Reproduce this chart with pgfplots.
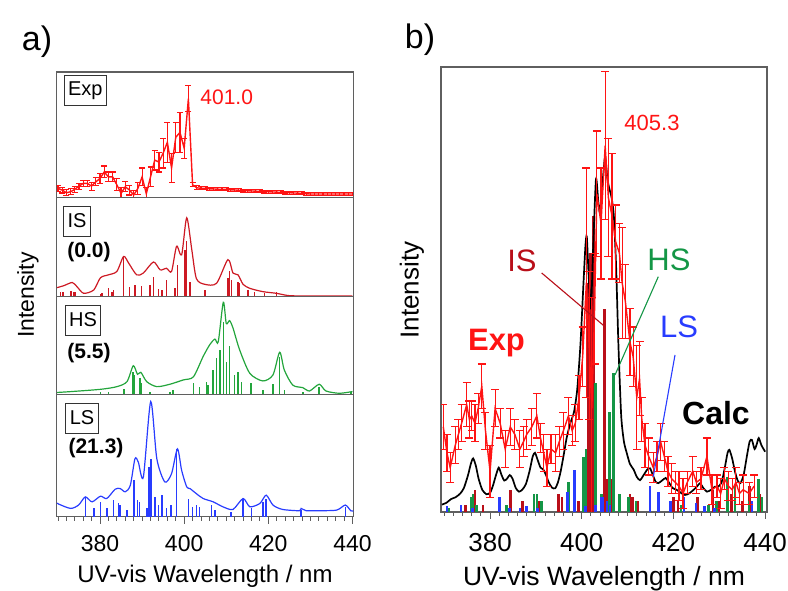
\documentclass[border=0pt]{standalone}
\usepackage{fontspec}
\setmainfont{Liberation Sans}
\usepackage{pgfplots}
\pgfplotsset{compat=1.18}
\usepackage{pgfplotstable}

\definecolor{expred}{RGB}{255,20,20}
\definecolor{isred}{RGB}{205,25,35}
\definecolor{isdark}{RGB}{185,15,25}
\definecolor{hsgreen}{RGB}{35,165,60}
\definecolor{hsdark}{RGB}{20,150,70}
\definecolor{lsblue}{RGB}{40,60,255}
\definecolor{framegray}{RGB}{95,95,95}

% ---- panel a data ----
\pgfplotstableread{
x y e
370 0.094 0.03
371 0.077 0.03
372 0.05 0.03
373 0.06 0.03
374 0.084 0.03
375 0.117 0.03
376 0.144 0.03
377 0.144 0.03
378 0.117 0.04
379 0.16 0.04
380 0.195 0.05
381 0.26 0.06
382 0.21 0.05
383 0.21 0.05
384 0.13 0.06
385 0.044 0.06
386 0.11 0.05
387 0.077 0.05
388 0.027 0.05
389 0.094 0.06
390 0.21 0.09
391 0.04 0.06
392 0.21 0.1
393 0.38 0.1
394 0.36 0.1
395 0.45 0.15
396 0.56 0.2
397 0.30 0.15
398 0.61 0.15
399 0.66 0.2
400 0.50 0.1
401 1.0 0.13
402 0.13 0.02
403 0.10 0.02
404 0.095 0.015
405 0.094 0.015
406 0.09 0.015
407 0.088 0.015
408 0.086 0.015
409 0.085 0.015
410 0.084 0.015
411 0.08 0.015
412 0.078 0.015
413 0.075 0.015
414 0.072 0.015
415 0.07 0.015
416 0.068 0.015
417 0.066 0.015
418 0.064 0.015
419 0.062 0.015
420 0.06 0.015
421 0.058 0.015
422 0.056 0.015
423 0.054 0.015
424 0.052 0.015
425 0.05 0.015
426 0.048 0.015
427 0.046 0.015
428 0.044 0.015
429 0.04 0.015
430 0.037 0.015
431 0.037 0.015
432 0.037 0.015
433 0.037 0.015
434 0.037 0.015
435 0.037 0.015
436 0.037 0.015
437 0.037 0.015
438 0.037 0.015
439 0.037 0.015
440 0.037 0.015
}\expa

\pgfplotstableread{
x y
369.8 0.115
371.4 0.14
373.4 0.18
374.5 0.128
376.1 0.043
378.5 0.085
380.1 0.24
382.0 0.277
384.0 0.32
385.6 0.51
386.8 0.426
388.7 0.277
390.3 0.30
392.7 0.44
394.3 0.34
395.8 0.36
397.0 0.32
398.2 0.64
399.4 0.53
400.6 1.0
401.8 0.6
402.9 0.23
404.9 0.157
407.7 0.17
410.4 0.47
411.6 0.30
412.8 0.277
414.0 0.157
415.6 0.106
418.7 0.064
421.9 0.043
425.0 0.013
430.0 0.01
440.0 0.01
}\iscurve

\pgfplotstableread{
x y
370.6 0.064
371.2 0.055
373.1 0.072
373.7 0.064
374.1 0.055
380.1 0.03
380.5 0.043
382.0 0.115
382.8 0.064
383.2 0.085
385.6 0.5
387.0 0.128
388.3 0.15
389.9 0.14
391.9 0.15
392.7 0.255
393.9 0.1
394.7 0.085
395.8 0.213
397.8 0.106
398.4 0.404
400.2 0.596
400.6 0.7
401.4 0.19
404.9 0.085
410.4 0.234
410.8 0.32
411.2 0.213
412.8 0.191
413.2 0.17
415.2 0.085
416.7 0.064
419.1 0.043
421.9 0.064
}\issticks

\pgfplotstableread{
x y
369.8 0.02
373.0 0.029
380.1 0.054
384.0 0.083
386.4 0.137
387.9 0.31
388.9 0.217
389.7 0.239
391.1 0.137
393.5 0.083
396.6 0.109
399.8 0.156
402.2 0.19
404.5 0.41
406.1 0.54
407.3 0.6
408.1 0.57
409.3 1.0
410.0 0.77
410.8 0.80
411.6 0.72
413.2 0.48
415.6 0.228
418.7 0.145
421.1 0.21
422.7 0.457
423.8 0.264
425.8 0.1
428.2 0.072
429.8 0.036
432.1 0.109
433.7 0.036
436.9 0.011
440.0 0.03
}\hscurve

\pgfplotstableread{
x y
380.1 0.022
382.0 0.029
385.7 0.058
387.8 0.239
388.1 0.21
389.5 0.174
389.9 0.12
391.9 0.029
396.6 0.022
397.4 0.047
402.2 0.12
403.7 0.083
405.3 0.13
405.7 0.1
406.9 0.264
407.7 0.39
408.5 0.48
409.3 0.79
410.0 0.355
410.8 0.52
412.0 0.21
412.8 0.246
413.6 0.138
415.9 0.12
418.7 0.047
421.1 0.11
422.7 0.41
423.8 0.047
428.2 0.029
432.1 0.083
439.6 0.029
}\hssticks

\pgfplotstableread{
x y
369.8 0.12
370.2 0.109
373.0 0.072
374.9 0.101
376.5 0.172
378.1 0.129
380.1 0.178
381.6 0.158
383.6 0.239
384.8 0.244
386.0 0.216
387.2 0.273
388.3 0.503
389.1 0.474
390.3 0.345
392.05 1.0
393.5 0.503
395.4 0.302
397.0 0.374
398.4 0.589
399.4 0.402
400.6 0.259
401.4 0.244
402.9 0.2
404.5 0.158
406.9 0.129
409.2 0.086
411.6 0.063
414.0 0.158
415.6 0.086
418.0 0.115
419.5 0.187
421.1 0.101
423.4 0.063
427.4 0.052
427.8 0.072
429.0 0.052
431.4 0.052
436.2 0.057
438.3 0.101
439.6 0.052
440.2 0.05
}\lscurve

\pgfplotstableread{
x y
376.5 0.172
378.5 0.072
380.1 0.129
381.6 0.072
383.2 0.144
384.4 0.115
384.8 0.101
386.4 0.057
388.1 0.316
388.9 0.144
389.4 0.129
391.1 0.072
391.7 0.431
392.05 0.503
393.1 0.172
393.9 0.101
394.7 0.187
395.8 0.072
396.8 0.101
398.2 0.589
401.0 0.158
402.0 0.086
402.9 0.101
403.6 0.086
406.5 0.101
407.3 0.057
411.2 0.043
414.0 0.158
416.0 0.072
418.7 0.129
419.5 0.158
427.8 0.057
438.3 0.086
}\lssticks

% ---- panel b data ----
\pgfplotstableread{
x y e
369.8 0.23 0.06
370.6 0.16 0.05
371.3 0.12 0.04
372.4 0.18 0.05
373.1 0.21 0.04
373.8 0.24 0.05
374.9 0.29 0.06
375.5 0.25 0.05
376.0 0.26 0.04
376.7 0.24 0.05
377.4 0.28 0.04
378.2 0.34 0.06
379.0 0.22 0.05
380.0 0.11 0.07
381.1 0.28 0.05
382.2 0.24 0.04
383.3 0.17 0.05
384.4 0.23 0.05
385.4 0.21 0.04
386.5 0.17 0.05
387.3 0.19 0.04
388.0 0.21 0.04
389.1 0.23 0.05
390.2 0.26 0.06
391.0 0.20 0.04
391.7 0.16 0.05
392.4 0.12 0.05
393.3 0.17 0.04
394.3 0.16 0.05
395.1 0.19 0.04
396.0 0.22 0.05
397.1 0.26 0.05
397.9 0.22 0.04
398.6 0.24 0.05
399.4 0.31 0.06
400.2 0.42 0.08
401.0 0.62 0.31
401.6 0.45 0.2
402.2 0.28 0.3
402.8 0.55 0.15
403.3 0.86 0.17
404.2 0.78 0.15
405.1 0.99 0.2
405.8 0.85 0.16
406.6 0.80 0.17
407.4 0.73 0.1
408.2 0.70 0.08
408.8 0.62 0.15
409.5 0.57 0.1
410.5 0.46 0.09
411.2 0.42 0.08
412.0 0.31 0.14
412.6 0.36 0.1
413.1 0.25 0.06
413.8 0.18 0.06
414.6 0.15 0.05
415.6 0.12 0.04
416.4 0.15 0.04
417.2 0.19 0.05
418.0 0.15 0.04
418.8 0.11 0.04
419.6 0.09 0.04
420.4 0.08 0.03
421.2 0.07 0.04
422.1 0.05 0.04
423.0 0.08 0.03
424.2 0.11 0.04
425.0 0.08 0.03
426.0 0.09 0.03
427.3 0.15 0.05
428.4 0.06 0.04
429.5 0.07 0.03
430.3 0.05 0.04
431.1 0.09 0.03
432.0 0.07 0.04
432.8 0.06 0.03
433.6 0.08 0.04
434.4 0.05 0.03
435.2 0.06 0.04
436.5 0.05 0.03
437.6 0.07 0.03
}\expb

\pgfplotstableread{
x y
369.5 0.02
370.5 0.025
371.5 0.035
372.5 0.04
373.5 0.05
374.3 0.065
375.2 0.1
375.8 0.13
376.3 0.145
376.9 0.125
377.5 0.09
378.3 0.06
379.2 0.048
380.0 0.052
380.6 0.07
381.3 0.1
381.9 0.12
382.5 0.1
383.1 0.085
383.7 0.09
384.3 0.1
384.9 0.09
385.6 0.065
386.3 0.055
387.0 0.06
387.8 0.075
388.6 0.11
389.3 0.15
389.8 0.16
390.4 0.14
391.0 0.12
391.6 0.115
392.2 0.1
392.8 0.08
393.5 0.066
394.2 0.064
394.8 0.08
395.4 0.11
396.0 0.15
396.7 0.2
397.5 0.24
398.3 0.27
399.0 0.33
399.7 0.45
400.3 0.6
400.8 0.72
401.1 0.744
401.5 0.64
402.0 0.55
402.5 0.72
403.1 0.9
403.6 0.84
404.0 0.81
404.6 0.9
405.1 0.96
405.6 0.9
406.0 0.875
406.5 0.85
407.0 0.8
407.5 0.66
408.0 0.45
408.6 0.26
409.2 0.19
409.8 0.16
410.5 0.13
411.3 0.115
412.0 0.095
412.7 0.086
413.5 0.1
414.3 0.115
414.9 0.118
415.5 0.1
416.1 0.082
416.7 0.078
417.5 0.085
418.3 0.092
419.0 0.08
419.8 0.065
420.7 0.06
421.6 0.052
422.5 0.046
423.4 0.05
424.4 0.06
425.2 0.07
425.8 0.078
426.5 0.065
427.3 0.055
428.2 0.06
429.0 0.068
429.7 0.068
430.5 0.08
431.2 0.12
431.8 0.16
432.2 0.168
432.8 0.145
433.4 0.11
434.0 0.085
434.6 0.078
435.3 0.1
436.0 0.15
436.6 0.19
437.1 0.195
437.7 0.17
438.2 0.185
438.6 0.2
439.2 0.18
440.0 0.163
}\calcb

\pgfplotstableread{
x y
374.6 0.02
376.7 0.06
378.5 0.02
384.4 0.06
387.1 0.03
390.5 0.03
394.9 0.05
395.7 0.04
399.3 0.03
401.4 0.62
401.9 0.7
402.6 0.8
404.9 0.55
405.4 0.09
406.4 0.09
410.5 0.05
411.0 0.04
412.2 0.03
420.0 0.04
421.0 0.03
425.3 0.04
428.6 0.06
429.9 0.03
432.6 0.05
435.0 0.03
436.6 0.07
438.8 0.05
}\isb

\pgfplotstableread{
x y
370.9 0.01
375.8 0.04
376.3 0.05
377.0 0.02
383.6 0.02
389.6 0.05
390.2 0.05
391.2 0.03
397.1 0.08
400.4 0.15
400.9 0.17
403.0 0.35
404.3 0.05
406.0 0.27
406.9 0.375
408.2 0.05
410.2 0.04
411.8 0.03
419.5 0.03
421.6 0.02
427.6 0.02
429.4 0.03
431.8 0.095
433.4 0.07
436.5 0.03
438.5 0.09
439.3 0.04
}\hsb

\pgfplotstableread{
x y
370.6 0.015
373.7 0.02
376.2 0.01
382.0 0.04
384.2 0.01
386.5 0.01
388.0 0.015
390.4 0.01
396.9 0.055
398.4 0.114
400.8 0.015
403.0 0.02
404.2 0.04
404.6 0.04
405.5 0.03
406.2 0.02
414.9 0.07
416.7 0.055
419.3 0.03
422.3 0.04
424.9 0.025
426.8 0.015
429.0 0.01
437.1 0.03
}\lsb

\pgfplotsset{
  panel/.style={scale only axis, ymin=0,
    axis line style={framegray, line width=1.1pt},
    xtick=\empty, ytick=\empty},
  pa/.style={panel, width=296.6pt, xmin=369.7, xmax=440.2},
  bottomticks/.style={
    xtick={380,400,420,440}, minor xtick={370,372,...,440},
    xtick pos=bottom, tick align=outside,
    major tick length=7pt, minor tick length=4pt,
    tick style={framegray, line width=0.9pt},
    /pgf/number format/assume math mode=true,
    /pgf/number format/1000 sep={}},
  errstyle/.style={error bars/.cd, y dir=both, y explicit,
    error bar style={expred, line width=1.2pt},
    error mark options={expred, rotate=90, mark size=#1, line width=1.1pt}},
}

\begin{document}
\begin{tikzpicture}
\path[use as bounding box] (0,0) rectangle (788pt,591pt);

% ---- panel a ----
\begin{axis}[pa, at={(56.7pt,393.3pt)}, anchor=south west, height=125.7pt, ymax=1.27]
  \addplot[expred, line width=1.4pt, mark=none, errstyle=3pt] table[x=x, y=y, y error=e] {\expa};
\end{axis}

\begin{axis}[pa, at={(56.7pt,294.3pt)}, anchor=south west, height=99pt, ymax=1.255]
  \addplot[ycomb, isred, line width=1.5pt, mark=none] table {\issticks};
  \addplot[isred, line width=1.2pt, smooth, tension=0.45, mark=none] table {\iscurve};
\end{axis}

\begin{axis}[pa, at={(56.7pt,196.7pt)}, anchor=south west, height=97.6pt, ymax=1.06]
  \addplot[ycomb, hsgreen, line width=1.5pt, mark=none] table {\hssticks};
  \addplot[hsgreen, line width=1.2pt, smooth, tension=0.45, mark=none] table {\hscurve};
\end{axis}

\begin{axis}[pa, bottomticks, at={(56.7pt,74.3pt)}, anchor=south west, height=122.4pt, ymax=1.063,
    tick label style={font=\fontsize{23}{23}\selectfont},
    xticklabel style={yshift=-8pt}]
  \addplot[ycomb, lsblue, line width=1.6pt, mark=none] table {\lssticks};
  \addplot[lsblue, line width=1.2pt, smooth, tension=0.45, mark=none] table {\lscurve};
\end{axis}

% ---- panel b ----
\begin{axis}[panel, bottomticks, at={(441pt,79pt)}, anchor=south west, width=326pt, height=445pt,
    xmin=369.3, xmax=440.4, ymax=1.203,
    tick label style={font=\fontsize{26}{26}\selectfont},
    xticklabel style={yshift=-11pt}]
  \addplot[ycomb, isdark, line width=2.6pt, mark=none] table {\isb};
  \addplot[ycomb, hsdark, line width=2.6pt, mark=none] table {\hsb};
  \addplot[ycomb, lsblue, line width=2.6pt, mark=none] table {\lsb};
  \addplot[black, line width=1.7pt, smooth, tension=0.4, mark=none] table {\calcb};
  \addplot[expred, line width=1.4pt, mark=none, errstyle=4pt] table[x=x, y=y, y error=e] {\expb};
\end{axis}

% ---- annotations ----
\node[font=\fontsize{34}{34}\selectfont] at (37pt,549pt) {a)};
\node[font=\fontsize{34}{34}\selectfont] at (420pt,551pt) {b)};
\node[rotate=90, font=\fontsize{23}{23}\selectfont] at (28pt,296pt) {Intensity};
\node[rotate=90, font=\fontsize{26}{26}\selectfont] at (412pt,301pt) {Intensity};
\node[font=\fontsize{24}{24}\selectfont] at (205pt,15pt) {UV-vis Wavelength / nm};
\node[font=\fontsize{26.5}{26.5}\selectfont] at (604pt,12pt) {UV-vis Wavelength / nm};

\tikzset{lbox/.style={draw=black!80, line width=0.9pt, minimum height=30pt, inner xsep=4pt, font=\fontsize{20}{20}\selectfont}}
\node[lbox] at (85.3pt,500.5pt) {Exp};
\node[expred, font=\fontsize{21}{21}\selectfont] at (226.7pt,494pt) {401.0};
\node[lbox] at (77pt,370pt) {IS};
\node[font=\bfseries\fontsize{21}{21}\selectfont] at (89pt,338.5pt) {(0.0)};
\node[lbox] at (83pt,271pt) {HS};
\node[font=\bfseries\fontsize{21}{21}\selectfont] at (89pt,237.5pt) {(5.5)};
\node[lbox] at (82pt,173pt) {LS};
\node[font=\bfseries\fontsize{21}{21}\selectfont] at (96pt,143pt) {(21.3)};

\node[expred, font=\fontsize{22}{22}\selectfont] at (652pt,468pt) {405.3};
\draw[isdark, line width=1.1pt] (541.7pt,318pt) -- (605pt,264.3pt);
\draw[hsdark, line width=1.1pt] (658.3pt,314.3pt) -- (615pt,216pt);
\draw[lsblue, line width=1.1pt] (675pt,236pt) -- (653.3pt,114.3pt);
\node[isdark, font=\fontsize{31}{31}\selectfont] at (522pt,330pt) {IS};
\node[hsdark, font=\fontsize{31}{31}\selectfont] at (669pt,331pt) {HS};
\node[lsblue, font=\fontsize{31}{31}\selectfont] at (679pt,264pt) {LS};
\node[expred, font=\bfseries\fontsize{31}{31}\selectfont] at (496.5pt,248pt) {Exp};
\node[black, font=\bfseries\fontsize{32}{32}\selectfont] at (716pt,178pt) {Calc};
\end{tikzpicture}
\end{document}
